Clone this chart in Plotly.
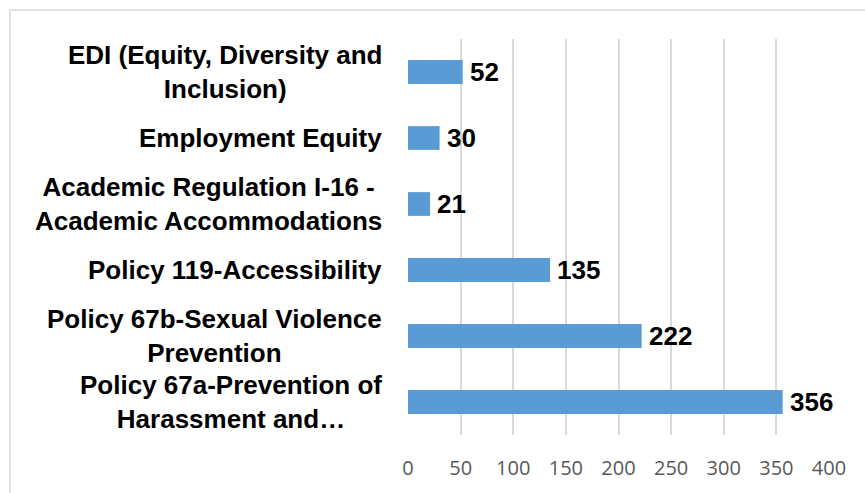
import plotly.graph_objects as go

# Data: number of responses per policy area (top to bottom)
categories = [
    "EDI (Equity, Diversity and<br>Inclusion)",
    "Employment Equity",
    "Academic Regulation I-16 -<br>Academic Accommodations",
    "Policy 119-Accessibility",
    "Policy 67b-Sexual Violence<br>Prevention",
    "Policy 67a-Prevention of<br>Harassment and…",
]
values = [52, 30, 21, 135, 222, 356]
x_ticks = [0, 50, 100, 150, 200, 250, 300, 350, 400]

W, H = 865, 493
M_L, M_R, M_T, M_B = 408, 36, 39, 58
plot_w = W - M_L - M_R
plot_h = H - M_T - M_B

BAR_COLOR = "#5B9BD5"
GRID_COLOR = "#D9D9D9"
LABEL_FONT = dict(family="Liberation Sans, Arial, sans-serif", size=26, color="#000000")

fig = go.Figure(
    go.Bar(
        x=values,
        y=list(range(len(categories))),
        orientation="h",
        marker=dict(color=BAR_COLOR, line=dict(width=0)),
        hoverinfo="skip",
    )
)

annotations = []
# Category labels: right-aligned block, lines centred within the block
for i, cat in enumerate(categories):
    annotations.append(dict(
        x=0, xref="paper", y=i, yref="y",
        text="<b>" + cat + "</b>",
        xanchor="right", yanchor="middle", align="center",
        xshift=-24, showarrow=False, font=LABEL_FONT,
    ))
# Value labels at the end of each bar
for i, v in enumerate(values):
    annotations.append(dict(
        x=v, xref="x", y=i, yref="y",
        text="<b>" + str(v) + "</b>",
        xanchor="left", yanchor="middle",
        xshift=5, showarrow=False, font=LABEL_FONT,
    ))

# Light outer frame around the whole chart
frame_x0 = (10 - M_L) / plot_w
frame_y1 = 1 + (M_T - 10) / plot_h

fig.update_layout(
    width=W, height=H,
    margin=dict(l=M_L, r=M_R, t=M_T, b=M_B),
    paper_bgcolor="white", plot_bgcolor="white",
    showlegend=False,
    bargap=0.64,
    annotations=annotations,
    shapes=[dict(
        type="rect", xref="paper", yref="paper",
        x0=frame_x0, x1=1.2, y0=-0.3, y1=frame_y1,
        line=dict(color=GRID_COLOR, width=1.5), fillcolor="rgba(0,0,0,0)",
        layer="below",
    )],
    xaxis=dict(
        range=[0, 400], tickvals=x_ticks,
        showgrid=True, gridcolor=GRID_COLOR, gridwidth=1.5,
        zeroline=False, showline=False,
        ticks="", ticklabelstandoff=19,
        tickfont=dict(family="Open Sans, Liberation Sans, sans-serif", size=20, color="#595959"),
    ),
    yaxis=dict(
        range=[len(categories) - 0.5, -0.5],
        showticklabels=False, showgrid=False, zeroline=False, showline=False,
        ticks="",
    ),
)

fig.write_html("out.html")
